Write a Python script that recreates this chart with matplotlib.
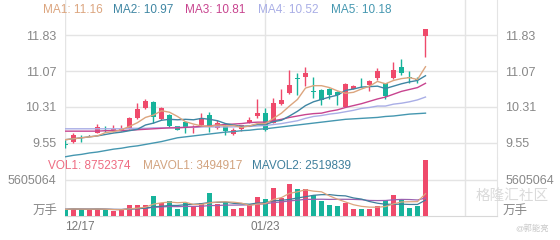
import matplotlib
matplotlib.use('Agg')
import matplotlib.pyplot as plt
import matplotlib.transforms as mtransforms
import numpy as np
import pandas as pd

plt.rcParams['font.family'] = ['Liberation Sans', 'Noto Sans CJK SC', 'DejaVu Sans']

# ---------------- data ----------------
date_labels = ['12/17', '01/23']
date_index = [0, 25]

opens  = [9.52, 9.58, 9.66, 9.71, 9.77, 9.87, 9.80, 9.80, 9.86, 10.07,
          10.28, 10.42, 10.05, 10.15, 9.90, 9.99, 9.82, 9.93, 10.14, 9.86,
          9.91, 9.74, 9.85, 9.98, 10.11, 10.18, 9.98, 10.37, 10.60, 10.93,
          10.95, 10.64, 10.67, 10.69, 10.63, 10.31, 10.70, 10.82, 10.77, 10.92,
          10.81, 10.92, 11.16, 10.93, 10.89, 11.81]
highs  = [9.61, 9.77, 9.72, 9.72, 9.96, 9.91, 9.93, 9.92, 10.09, 10.40,
          10.47, 10.44, 10.32, 10.17, 9.91, 10.02, 9.93, 10.19, 10.21, 10.03,
          9.92, 9.86, 9.94, 10.09, 10.47, 10.28, 10.49, 10.68, 11.09, 11.02,
          11.16, 10.95, 10.68, 10.71, 10.65, 10.81, 10.78, 10.92, 10.88, 11.13,
          10.81, 11.25, 11.32, 11.07, 10.95, 11.95]
lows   = [9.44, 9.54, 9.58, 9.70, 9.77, 9.79, 9.79, 9.80, 9.85, 10.05,
          10.27, 9.97, 10.04, 9.88, 9.82, 9.76, 9.77, 9.91, 9.79, 9.85,
          9.72, 9.72, 9.81, 9.97, 10.08, 9.81, 9.97, 10.35, 10.58, 10.56,
          10.75, 10.49, 10.36, 10.48, 10.35, 10.30, 10.69, 10.74, 10.65, 10.88,
          10.47, 10.91, 10.99, 10.81, 10.81, 11.36]
closes = [9.51, 9.72, 9.65, 9.71, 9.89, 9.86, 9.85, 9.85, 10.07, 10.26,
          10.43, 10.10, 10.28, 9.91, 9.83, 9.89, 9.83, 10.08, 9.89, 9.97,
          9.81, 9.83, 9.92, 10.04, 10.18, 9.83, 10.40, 10.46, 10.77, 10.91,
          11.03, 10.63, 10.46, 10.56, 10.56, 10.79, 10.75, 10.81, 10.86, 11.06,
          10.54, 11.09, 11.02, 10.92, 10.88, 11.95]
volumes = [1.04e6, 1.14e6, 1.04e6, 1.04e6, 1.14e6, 0.93e6, 0.83e6, 0.93e6, 1.71e6, 1.71e6,
           1.71e6, 3.17e6, 1.97e6, 2.34e6, 1.14e6, 2.08e6, 1.45e6, 1.97e6, 3.53e6, 1.87e6,
           2.23e6, 1.14e6, 1.30e6, 1.66e6, 2.96e6, 2.59e6, 4.36e6, 2.80e6, 4.93e6, 4.15e6,
           4.15e6, 3.32e6, 2.28e6, 1.76e6, 1.56e6, 2.02e6, 1.14e6, 1.04e6, 1.14e6, 1.50e6,
           2.54e6, 3.22e6, 2.54e6, 1.30e6, 1.56e6, 8752374]

ma1 = [9.62, 9.64, 9.66, 9.68, 9.70, 9.77, 9.79, 9.83, 9.90, 9.98,
       10.09, 10.14, 10.23, 10.20, 10.11, 10.00, 9.95, 9.91, 9.90, 9.93,
       9.91, 9.92, 9.88, 9.91, 9.96, 9.96, 10.07, 10.18, 10.33, 10.47,
       10.71, 10.76, 10.76, 10.72, 10.65, 10.60, 10.62, 10.69, 10.75, 10.85,
       10.80, 10.87, 10.91, 10.93, 10.89, 11.16]
ma2 = [9.62, 9.64, 9.66, 9.68, 9.70, 9.73, 9.76, 9.78, 9.81, 9.84,
       9.93, 9.97, 10.03, 10.05, 10.04, 10.05, 10.04, 10.07, 10.05, 10.02,
       9.96, 9.93, 9.90, 9.91, 9.94, 9.94, 10.00, 10.03, 10.12, 10.22,
       10.34, 10.42, 10.47, 10.52, 10.56, 10.66, 10.69, 10.73, 10.74, 10.75,
       10.70, 10.75, 10.80, 10.84, 10.87, 10.97]
ma3 = [9.80, 9.80, 9.80, 9.80, 9.80, 9.81, 9.81, 9.81, 9.82, 9.83,
       9.84, 9.85, 9.86, 9.87, 9.87, 9.88, 9.89, 9.90, 9.91, 9.93,
       9.94, 9.95, 9.96, 9.98, 9.99, 9.99, 10.02, 10.05, 10.09, 10.12,
       10.15, 10.17, 10.18, 10.22, 10.25, 10.30, 10.34, 10.38, 10.43, 10.48,
       10.52, 10.58, 10.64, 10.68, 10.72, 10.81]
ma4 = [9.85, 9.85, 9.85, 9.85, 9.85, 9.85, 9.85, 9.85, 9.86, 9.86,
       9.86, 9.87, 9.87, 9.87, 9.88, 9.88, 9.88, 9.89, 9.89, 9.89,
       9.89, 9.89, 9.90, 9.90, 9.91, 9.92, 9.94, 9.96, 9.99, 10.02,
       10.07, 10.11, 10.13, 10.16, 10.18, 10.21, 10.24, 10.28, 10.30, 10.33,
       10.33, 10.37, 10.39, 10.42, 10.46, 10.52]
ma5 = [9.26, 9.29, 9.31, 9.34, 9.36, 9.39, 9.42, 9.44, 9.47, 9.49,
       9.52, 9.55, 9.58, 9.62, 9.66, 9.68, 9.70, 9.72, 9.74, 9.76,
       9.78, 9.79, 9.81, 9.82, 9.84, 9.85, 9.87, 9.89, 9.91, 9.93,
       9.95, 9.97, 9.99, 10.01, 10.03, 10.05, 10.06, 10.07, 10.08, 10.09,
       10.11, 10.12, 10.14, 10.16, 10.17, 10.18]

ma_names = ['MA1', 'MA2', 'MA3', 'MA4', 'MA5']
ma_last = [11.16, 10.97, 10.81, 10.52, 10.18]
vol_names = ['VOL1', 'MAVOL1', 'MAVOL2']
vol_last = [8752374, 3494917, 2519839]
price_ticks = [9.55, 10.31, 11.07, 11.83]
vol_tick = 5605064

# ---------------- style ----------------
RED = '#ef4a6b'
GREEN = '#17b39b'
FLAT = '#222222'
MA_COLORS = ['#dca57e', '#3f86a3', '#c8448f', '#a9aee6', '#4597b0']
VOL_TXT = ['#ee6b82', '#d2a37f', '#3e7f9c']
VOL_MA_COLORS = ['#dca57e', '#3e7f9c', '#9a62b0']
GRID = '#e4e4e4'
LABEL = '#888888'

W, H = 560, 240
fig = plt.figure(figsize=(W / 100, H / 100), dpi=100)
fig.patch.set_facecolor('white')

def rect(l, t, r, b):
    return [l / W, 1 - b / H, (r - l) / W, (b - t) / H]

axp = fig.add_axes(rect(65, 0, 497, 158))
axv = fig.add_axes(rect(65, 158, 497, 216))

o = np.array(opens); h = np.array(highs); l = np.array(lows); c = np.array(closes)
v = np.array(volumes, dtype=float)
n = len(c)
x = np.arange(n)

# price scale: 11.83 at y=35px, 0.76 per 36px
def px2price(y):
    return 11.83 - (y - 35) * 0.76 / 36

xlim = (-0.0625, 53.94)

# ---------------- price panel ----------------
cols = np.where(c > o, RED, np.where(c < o, GREEN, FLAT))
axp.vlines(x, l, h, colors=cols, lw=1, zorder=3)
body_b = np.minimum(o, c)
body_h = np.maximum(np.abs(c - o), 0.014)
axp.bar(x, body_h, 0.72, bottom=body_b, color=cols, lw=0, zorder=4)

for ma, col in zip([ma5, ma4, ma3, ma2, ma1], MA_COLORS[::-1]):
    axp.plot(x, ma, color=col, lw=1, zorder=5)

axp.set_xlim(*xlim)
axp.set_ylim(px2price(158), px2price(0))
axp.set_yticks(price_ticks)
axp.set_yticklabels([f'{t:.2f}' for t in price_ticks])
axp.set_xticks([0, 25, 50])
axp.grid(True, color=GRID, lw=1)
axp.set_axisbelow(True)
axp.tick_params(length=0, labelleft=True, labelright=True, labelbottom=False,
                pad=6, labelsize=9, labelcolor=LABEL)
for s in ['top', 'left', 'bottom']:
    axp.spines[s].set_visible(False)
axp.spines['right'].set_color(GRID)

# ---------------- volume panel ----------------
vcols = np.where(c >= o, RED, GREEN)
axv.bar(x, v, 0.72, color=vcols, lw=0, zorder=3)
vs = pd.Series(v)
for win, col in zip([20, 10, 5], VOL_MA_COLORS[::-1]):
    axv.plot(x, vs.rolling(win, min_periods=1).mean(), color=col, lw=0.9, zorder=4)

vpp = vol_tick / 36.0
axv.set_xlim(*xlim)
axv.set_ylim(0, 58 * vpp)
axv.set_yticks([vol_tick])
axv.set_yticklabels([str(vol_tick)])
axv.set_xticks([0, 25, 50])
axv.grid(True, color=GRID, lw=1)
axv.set_axisbelow(True)
axv.tick_params(length=0, labelleft=True, labelright=True, labelbottom=False,
                pad=6, labelsize=9, labelcolor=LABEL)
for s in ['top', 'left']:
    axv.spines[s].set_visible(False)
axv.spines['right'].set_color(GRID)
axv.spines['bottom'].set_color('#d8d8d8')

# unit labels
fig.text(58 / W, 1 - 211 / H, '万手', ha='right', va='center', fontsize=9, color=LABEL)
fig.text(503 / W, 1 - 211 / H, '万手', ha='left', va='center', fontsize=9, color=LABEL)

# watermark
fig.text(549 / W, 1 - 196 / H, '格隆汇社区', ha='right', va='center', fontsize=10.5,
         color='#dadada', zorder=0)
fig.text(549 / W, 1 - 229 / H, '@郭能亮', ha='right', va='center', fontsize=6,
         color='#c8c8c8', zorder=0)

# date labels
trans = mtransforms.blended_transform_factory(axv.transData, axv.transAxes)
for lab, idx in zip(date_labels, date_index):
    ha = 'left' if idx == 0 else 'center'
    axv.text(idx, -(227 - 216) / 58, lab, transform=trans, ha=ha, va='center',
             fontsize=8.5, color='#777777', clip_on=False)

# MA legend
ma_x = [43, 113, 185, 258, 331]
for name, val, col, xp in zip(ma_names, ma_last, MA_COLORS, ma_x):
    fig.text(xp / W, 1 - 10 / H, f'{name}: {val:.2f}', ha='left', va='center',
             fontsize=8.5, color=col)

# volume legend
vol_x = [48, 143, 252]
for name, val, col, xp in zip(vol_names, vol_last, VOL_TXT, vol_x):
    fig.text(xp / W, 1 - 166 / H, f'{name}: {val}', ha='left', va='center',
             fontsize=8.5, color=col)

fig.savefig('out.png', dpi=100)
